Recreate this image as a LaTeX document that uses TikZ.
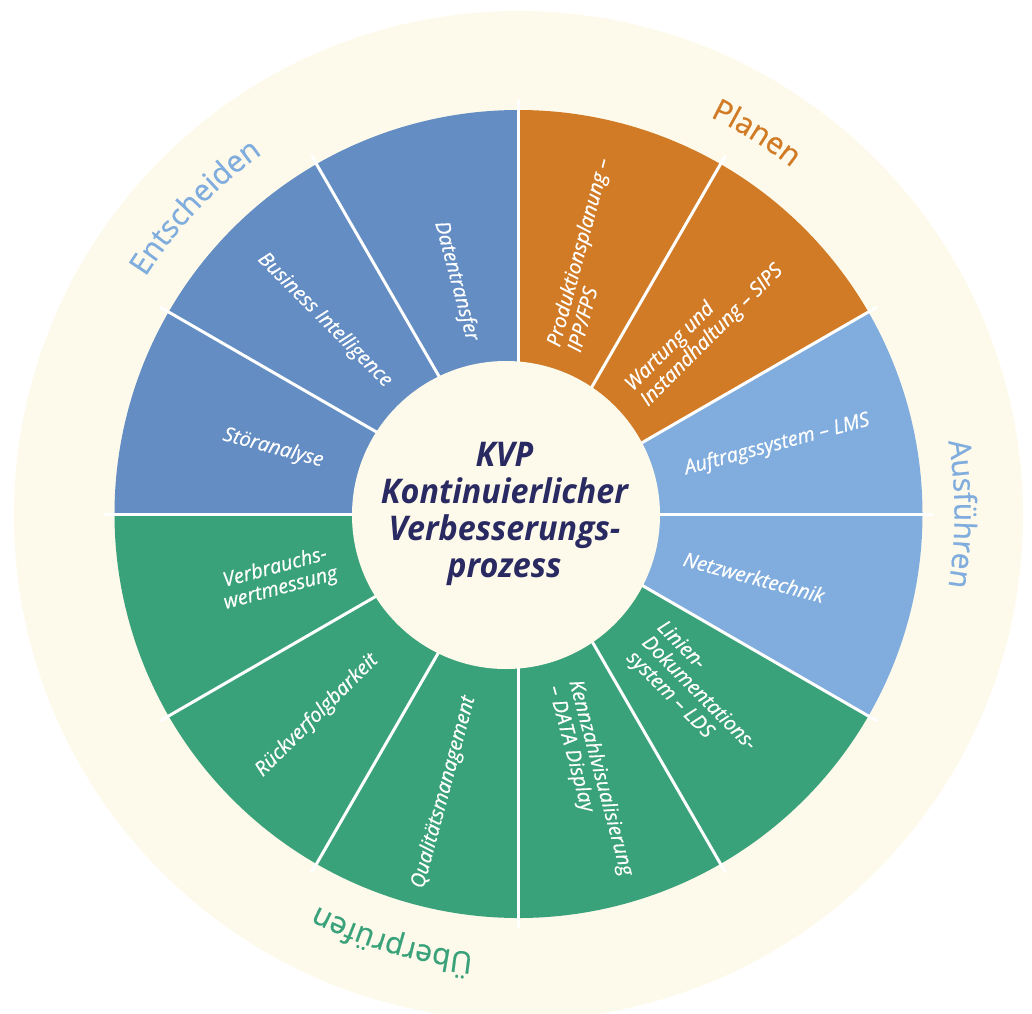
\documentclass[tikz,border=0pt]{standalone}
\usepackage{fontspec}
\setmainfont{Open Sans}
\newfontfamily\segfont[FakeBold=0.6]{Open Sans}
\newfontfamily\hfont[FakeBold=0.7]{Open Sans}
\newfontfamily\centerfont[FakeStretch=0.95]{Open Sans}
\usetikzlibrary{decorations.text}
\definecolor{dblue}{HTML}{638DC3}
\definecolor{orng}{HTML}{D17B26}
\definecolor{lblue}{HTML}{80ADDD}
\definecolor{grn}{HTML}{3AA27A}
\definecolor{cream}{HTML}{FEFAEB}
\definecolor{navy}{HTML}{2A2A62}
\newcommand\myhead{\hfont\fontsize{15}{18}\selectfont}
\begin{document}
\begin{tikzpicture}[x=0.5pt,y=0.5pt,
  seg/.style={font=\segfont\itshape\fontsize{10}{10.75}\selectfont, text=white, inner sep=0pt},
  sepline/.style={white, line width=1.5pt},
  heading/.style={decorate, decoration={text along path, text align=center, text={#1}}}]
\useasboundingbox (-518.5,-499) rectangle (513.5,514);
% outer cream ring
\fill[cream] (0,-1.5) circle[radius=504.5];
% segments
\foreach \a/\c in {0/lblue,30/orng,60/orng,90/dblue,120/dblue,150/dblue,180/grn,210/grn,240/grn,270/grn,300/grn,330/lblue}
  \fill[\c] (0,0) -- (\a:404) arc[start angle=\a, end angle=\a+30, radius=404] -- cycle;
% separators
\foreach \a in {0,30,...,330}
  \draw[sepline] (0,0) -- (\a:414);
% inner circle
\fill[cream] (-12.5,-1) circle[radius=154];
% headings
\path[heading={|\myhead\color{orng}|Planen}] (88:441) arc[start angle=88, end angle=28, radius=441];
\path[heading={|\myhead\color{lblue}|Ausführen}] (30:436) arc[start angle=30, end angle=-30, radius=436];
\path[heading={|\myhead\color{grn}|Überprüfen}] (283.5:441) arc[start angle=283.5, end angle=223.5, radius=441];
\path[heading={|\myhead\color{lblue}|Entscheiden}] (166.5:442) arc[start angle=166.5, end angle=106.5, radius=442];
% centre text
\node[font=\centerfont\bfseries\itshape\fontsize{17}{18.5}\selectfont, text=navy, align=center, inner sep=0pt] (kvp) at (-14,0) {KVP\\Kontinuierlicher\\Verbesserungs-\\prozess};
% segment labels (right half, reading outward)
\node[seg, anchor=west, rotate=75, align=left] (prod) at (75:171) {Produktionsplanung –\\IPP/FPS};
\node[seg, anchor=west, rotate=45, align=left] (wart) at (45:167) {Wartung und\\Instandhaltung – SIPS};
\node[seg, anchor=west, rotate=15] (auft) at (15:172) {Auftragssystem – LMS};
\node[seg, anchor=west, rotate=-15] (netz) at (-15:171) {Netzwerktechnik};
\node[seg, anchor=west, rotate=-45, align=left] (lds) at (-45:178) {Linien-\\Dokumentations-\\system – LDS};
\node[seg, anchor=west, rotate=-75, align=left] (kenn) at (-75:175) {Kennzahlvisualisierung\\– DATA Display};
% segment labels (left half, reading inward)
\node[seg, rotate=75] (qual) at (255:288) {Qualitätsmanagement};
\node[seg, rotate=45] (rueck) at (225:285) {Rückverfolgbarkeit};
\node[seg, rotate=15, align=center] (verb) at (195:249) {Verbrauchs-\\wertmessung};
\node[seg, rotate=-15] (stoer) at (165:254) {Störanalyse};
\node[seg, rotate=-45] (bi) at (135:274) {Business Intelligence};
\node[seg, rotate=-75] (daten) at (105:241) {Datentransfer};
\end{tikzpicture}
\end{document}
